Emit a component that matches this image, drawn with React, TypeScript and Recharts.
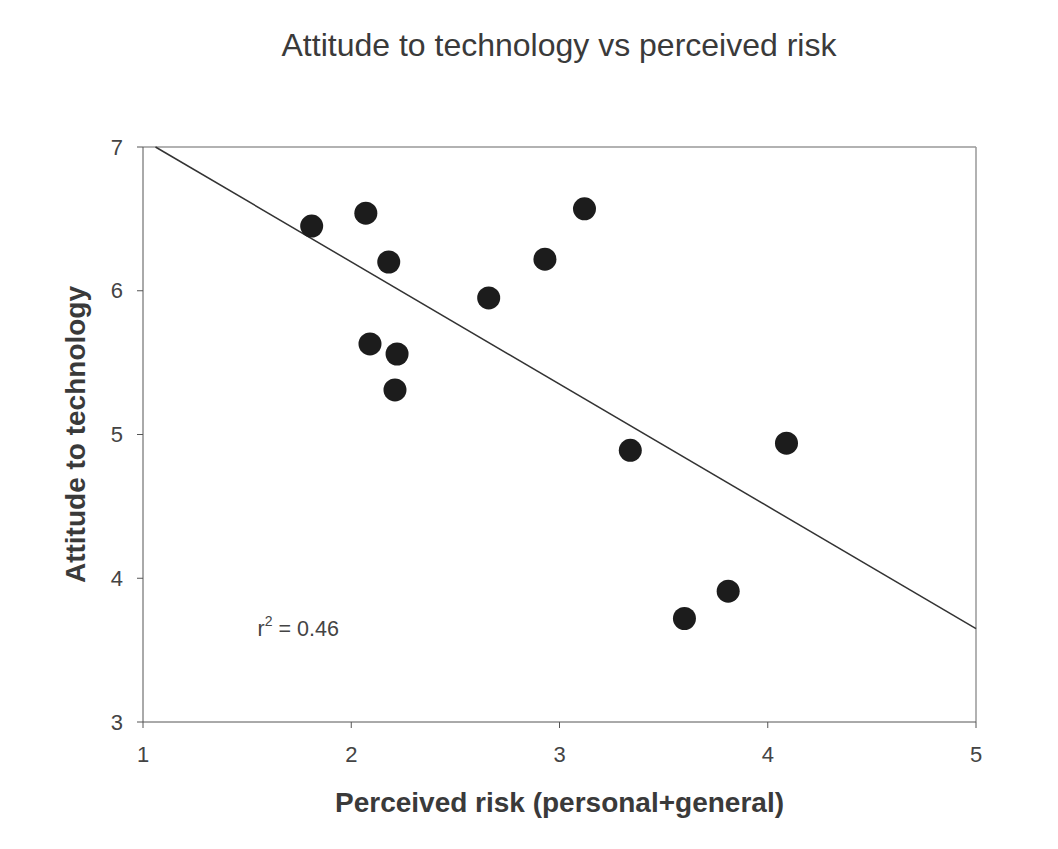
import { ScatterChart, Scatter, XAxis, YAxis, ReferenceLine, ReferenceDot } from 'recharts'

const riskValues = [1.81, 2.07, 2.18, 2.09, 2.22, 2.21, 2.66, 2.93, 3.12, 3.34, 4.09, 3.81, 3.6]
const attitudeValues = [6.45, 6.54, 6.2, 5.63, 5.56, 5.31, 5.95, 6.22, 6.57, 4.89, 4.94, 3.91, 3.72]

// fitted line end points
const fitX = [1.06, 5]
const fitY = [7, 3.65]

const xTicks = [1, 2, 3, 4, 5]
const yTicks = [3, 4, 5, 6, 7]

const points = riskValues.map((x, i) => ({ x, y: attitudeValues[i] }))
const fitLine = fitX.map((x, i) => ({ x, y: fitY[i] }))

const font = '"Liberation Sans", Arial, sans-serif'
const axisColor = '#555'

const Dot = (props: any) => <circle cx={props.cx} cy={props.cy} r={11.5} fill="#1c1c1c" />

const R2Label = (props: any) => {
  const { viewBox } = props
  return (
    <text x={viewBox.x} y={viewBox.y} fontFamily={font} fontSize={21.5} fill="#444" dominantBaseline="middle">
      r<tspan dy={-8} fontSize={14}>2</tspan>
      <tspan dy={8}> = 0.46</tspan>
    </text>
  )
}

const XTick = (props: any) => (
  <text x={props.x} y={props.y} dy={2} textAnchor="middle" dominantBaseline="hanging" fontFamily={font} fontSize={22} fill="#444">
    {props.payload.value}
  </text>
)

const YTick = (props: any) => (
  <text x={props.x} y={props.y} textAnchor="end" dominantBaseline="central" fontFamily={font} fontSize={22} fill="#444">
    {props.payload.value}
  </text>
)

export default function App() {
  return (
    <div style={{ position: 'absolute', left: 0, top: 0, width: 1058, height: 849, background: '#fff' }}>
      <ScatterChart width={1058} height={849} margin={{ top: 147, right: 82, bottom: 77, left: 93 }}>
        <text x={559} y={56} textAnchor="middle" fontFamily={font} fontSize={32} fill="#3a3a3a">
          Attitude to technology vs perceived risk
        </text>
        <XAxis
          type="number"
          dataKey="x"
          domain={[1, 5]}
          ticks={xTicks}
          height={50}
          stroke={axisColor}
          tickSize={6}
          tick={<XTick />}
          tickMargin={16}
          label={{ value: 'Perceived risk (personal+general)', position: 'insideBottom', offset: -40, fontFamily: font, fontSize: 28, fontWeight: 'bold', fill: '#3a3a3a' }}
        />
        <YAxis
          type="number"
          dataKey="y"
          domain={[3, 7]}
          ticks={yTicks}
          width={50}
          stroke={axisColor}
          tickSize={6}
          tick={<YTick />}
          tickMargin={14}
          label={{ value: 'Attitude to technology', angle: -90, position: 'insideLeft', offset: -18, fontFamily: font, fontSize: 28, fontWeight: 'bold', fill: '#3a3a3a', style: { textAnchor: 'middle' } }}
        />
        <ReferenceLine y={7} stroke="#999" strokeWidth={1.5} />
        <ReferenceLine x={5} stroke="#999" strokeWidth={1.5} />
        <Scatter data={fitLine} line={{ stroke: '#333', strokeWidth: 1.5 }} shape={() => null} isAnimationActive={false} />
        <Scatter data={points} shape={Dot} isAnimationActive={false} />
        <ReferenceDot x={1.55} y={3.64} r={0} fill="none" stroke="none" label={<R2Label />} />
      </ScatterChart>
    </div>
  )
}
